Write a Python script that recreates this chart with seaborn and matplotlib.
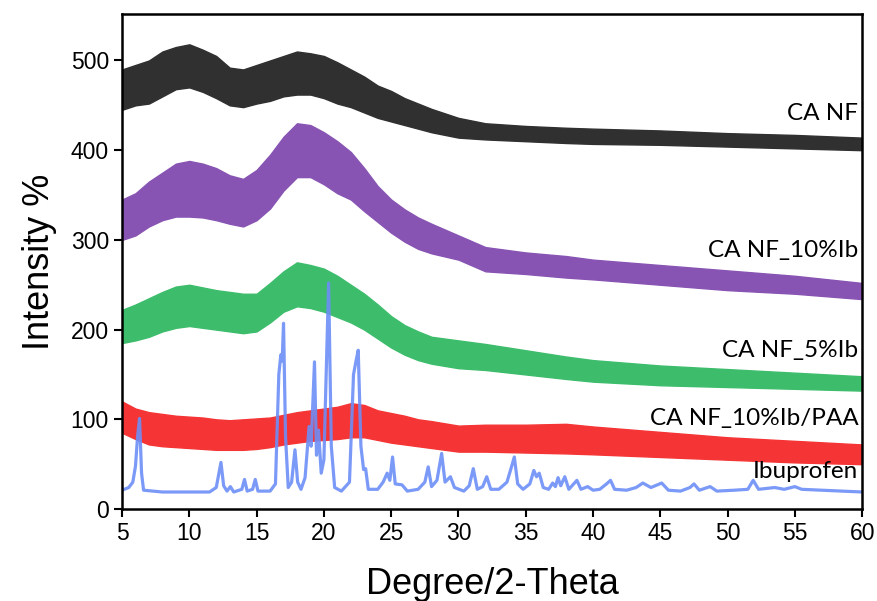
import numpy as np
import pandas as pd
import matplotlib
matplotlib.use("Agg")
import matplotlib.pyplot as plt
import seaborn as sns

theta = [5, 6, 7, 8, 9, 10, 11, 12, 13, 14, 15, 16, 17, 18, 19, 20, 21, 22,
         23, 24, 25, 26, 27, 28, 30, 32, 35, 38, 40, 45, 50, 55, 60]

# lower / upper edge of each noisy band
ca_nf_low = [445, 450, 452, 460, 468, 470, 465, 458, 450, 448, 452, 455, 460, 462, 462, 458, 452, 448,
             442, 436, 432, 428, 424, 420, 414, 412, 410, 408, 407, 406, 404, 402, 400]
ca_nf_high = [490, 495, 500, 510, 515, 518, 512, 505, 492, 490, 495, 500, 505, 510, 508, 505, 498, 490,
              482, 472, 466, 458, 452, 446, 436, 430, 427, 425, 424, 422, 419, 417, 414]

ib10_low = [300, 305, 315, 322, 326, 326, 325, 322, 318, 315, 322, 335, 355, 370, 370, 362, 352, 345,
            332, 320, 308, 298, 290, 285, 278, 265, 262, 258, 256, 250, 244, 240, 234]
ib10_high = [345, 352, 365, 375, 385, 388, 385, 380, 372, 368, 378, 395, 415, 430, 428, 420, 410, 398,
             380, 360, 345, 334, 325, 318, 305, 292, 286, 282, 278, 272, 266, 260, 252]

ib5_low = [185, 188, 192, 198, 202, 204, 202, 200, 198, 196, 198, 208, 220, 226, 224, 220, 214, 208,
           200, 190, 180, 172, 166, 162, 157, 155, 150, 145, 142, 138, 136, 134, 132]
ib5_high = [222, 228, 235, 242, 248, 250, 247, 244, 242, 240, 240, 252, 265, 275, 272, 268, 260, 250,
            240, 228, 215, 205, 198, 192, 188, 184, 177, 170, 166, 160, 156, 152, 148]

paa_low = [85, 78, 72, 70, 69, 68, 67, 66, 66, 66, 67, 69, 72, 74, 76, 77, 78, 80,
           80, 77, 74, 72, 70, 68, 64, 64, 63, 62, 61, 58, 55, 52, 50]
paa_high = [120, 112, 108, 106, 104, 103, 102, 100, 99, 100, 101, 102, 105, 108, 110, 112, 114, 118,
            116, 110, 107, 104, 100, 98, 93, 94, 94, 95, 92, 86, 80, 76, 72]

# ibuprofen pattern (peak tops and valleys)
ibu_x = [5.0, 5.5, 5.8, 6.0, 6.15, 6.3, 6.45, 6.6, 8, 10, 11.5, 12.0, 12.2, 12.35, 12.55, 12.8,
         13.05, 13.3, 13.9, 14.1, 14.3, 14.7, 14.9, 15.1, 16.0, 16.4, 16.65, 16.8, 16.9, 17.0,
         17.15, 17.35, 17.6, 17.85, 18.05, 18.3, 18.6, 18.9, 19.05, 19.3, 19.45, 19.6, 19.8,
         20.0, 20.2, 20.35, 20.55, 20.8, 21.3, 21.9, 22.2, 22.4, 22.55, 22.75, 22.95, 23.1,
         23.3, 24.0, 24.4, 24.7, 24.9, 25.1, 25.3, 25.8, 26.2, 27.0, 27.5, 27.75, 28.0, 28.4,
         28.75, 29.0, 29.4, 29.7, 30.4, 30.8, 31.1, 31.4, 31.8, 32.1, 32.4, 33.0, 33.6, 33.9,
         34.15, 34.4, 34.8, 35.3, 35.6, 35.8, 36.0, 36.3, 36.7, 37.0, 37.2, 37.4, 37.6, 37.9,
         38.2, 38.8, 39.1, 39.6, 40.0, 40.5, 41.0, 41.3, 41.6, 42.5, 43.2, 43.7, 44.3, 45.1,
         45.6, 46.5, 47.2, 47.5, 47.9, 48.7, 49.2, 50.5, 51.5, 51.9, 52.3, 53.5, 54.2, 55.0,
         55.5, 57, 58.5, 60]
ibu_y = [21, 24, 30, 48, 80, 101, 40, 21, 19, 19, 19, 24, 40, 52, 26, 20,
         25, 19, 22, 33, 20, 22, 33, 20, 20, 28, 150, 172, 165, 207,
         80, 24, 30, 66, 30, 22, 35, 92, 70, 164, 60, 88, 40,
         55, 170, 252, 70, 24, 20, 30, 150, 166, 177, 70, 44, 45,
         22, 22, 30, 40, 32, 58, 28, 27, 20, 22, 30, 47, 25, 32,
         62, 30, 36, 24, 20, 26, 45, 22, 25, 36, 22, 22, 30, 45,
         58, 28, 22, 28, 43, 36, 40, 24, 22, 29, 25, 35, 26, 36,
         22, 32, 22, 25, 21, 22, 28, 32, 22, 21, 24, 29, 24, 29,
         21, 20, 24, 28, 21, 25, 20, 21, 22, 32, 22, 24, 22, 25,
         22, 21, 20, 19]

labels = ["CA NF", "CA NF_10%Ib", "CA NF_5%Ib", "CA NF_10%Ib/PAA", "Ibuprofen"]
label_y = [434, 281, 170, 94, 35]

sns.set_style("ticks")
plt.rcParams['font.family'] = ['Liberation Sans', 'DejaVu Sans']
plt.rcParams['text.color'] = 'black'
plt.rcParams['axes.labelcolor'] = 'black'
plt.rcParams['xtick.color'] = 'black'
plt.rcParams['ytick.color'] = 'black'

fig = plt.figure(figsize=(8.78, 6.01), dpi=100)
ax = fig.add_subplot(111)
fig.subplots_adjust(left=0.139, right=0.982, bottom=0.153, top=0.977)

bands = [(ca_nf_low, ca_nf_high, "#303030"),
         (ib10_low, ib10_high, "#8854b3"),
         (ib5_low, ib5_high, "#3dbd6c"),
         (paa_low, paa_high, "#f53535")]
for lo, hi, c in bands:
    ax.fill_between(theta, lo, hi, color=c, lw=1.0, edgecolor=c)

ibu = pd.DataFrame({"theta": ibu_x, "intensity": ibu_y})
sns.lineplot(data=ibu, x="theta", y="intensity", color="#6d8ef7", lw=2.3, alpha=0.9, ax=ax)

for lab, yy in zip(labels, label_y):
    ax.text(59.7, yy, lab, ha="right", va="baseline", fontsize=17.5, color="black",
            family=["Lato", "DejaVu Sans"])

ax.set_xlim(5, 60)
ax.set_ylim(0, 552)
ax.set_xticks(np.arange(5, 61, 5))
ax.set_yticks(np.arange(0, 501, 100))
ax.tick_params(axis="both", direction="out", length=6, width=1.5, labelsize=16.5, color="black")
for s in ax.spines.values():
    s.set_linewidth(1.8)
    s.set_color("black")
ax.set_xlabel("Degree/2-Theta", fontsize=26, labelpad=16)
ax.set_ylabel("Intensity %", fontsize=26, labelpad=10)

fig.savefig("out.png", dpi=100)
